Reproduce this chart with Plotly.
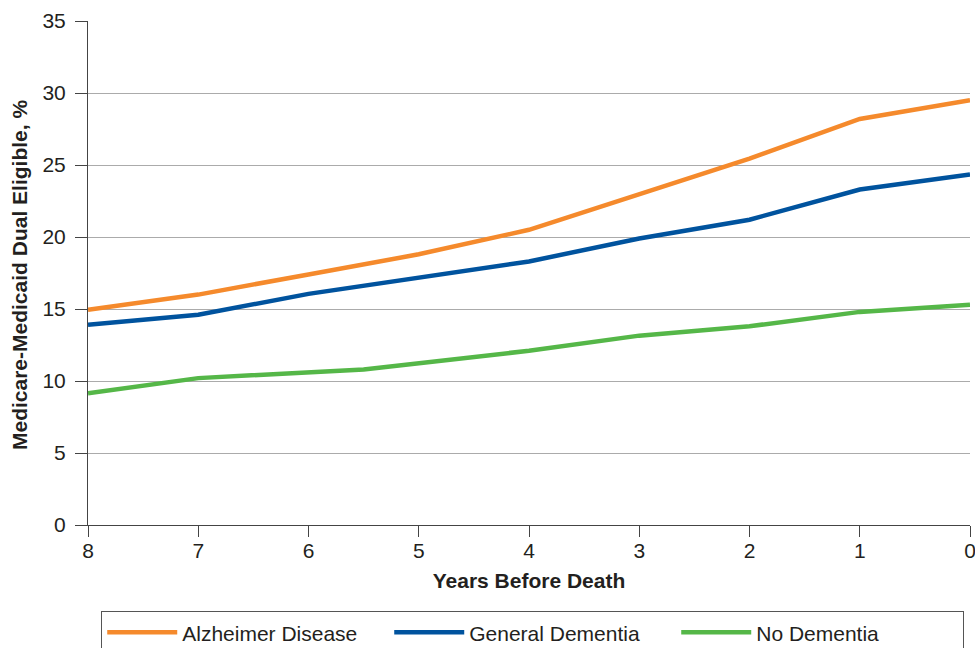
import plotly.graph_objects as go

years = [8, 7, 6, 5, 4, 3, 2, 1, 0]
alzheimer = [14.95, 16.0, 17.4, 18.8, 20.5, 22.95, 25.45, 28.2, 29.5]
general_dementia = [13.9, 14.6, 16.05, 17.15, 18.3, 19.9, 21.2, 23.3, 24.35]
green_years = [8, 7, 5.5, 4, 3, 2, 1, 0]
no_dementia = [9.15, 10.2, 10.8, 12.1, 13.15, 13.8, 14.8, 15.3]

y_ticks = [0, 5, 10, 15, 20, 25, 30, 35]
x_ticks = [8, 7, 6, 5, 4, 3, 2, 1, 0]

FONT = "Liberation Sans, Arial, sans-serif"
TXT = "#231F20"

fig = go.Figure()
fig.add_trace(go.Scatter(x=years, y=alzheimer, mode="lines", name="Alzheimer Disease",
                         line=dict(color="#F58A2C", width=4.5)))
fig.add_trace(go.Scatter(x=years, y=general_dementia, mode="lines", name="General Dementia",
                         line=dict(color="#00539E", width=4.5)))
fig.add_trace(go.Scatter(x=green_years, y=no_dementia, mode="lines", name="No Dementia",
                         line=dict(color="#55B748", width=4.5)))

fig.update_layout(
    width=975, height=648,
    margin=dict(l=88, r=5, t=21, b=123, autoexpand=False),
    paper_bgcolor="white", plot_bgcolor="white",
    font=dict(family=FONT, size=21, color=TXT),
    showlegend=True,
    legend=dict(orientation="h", x=0.015, xanchor="left", y=-0.171, yanchor="top",
                bordercolor="#555", borderwidth=1, font=dict(size=21, family=FONT, color=TXT),
                itemwidth=70, entrywidth=202, entrywidthmode="pixels", tracegroupgap=0),
    annotations=[dict(text="<b>Medicare-Medicaid Dual Eligible, %</b>", textangle=-90,
                      xref="paper", yref="paper", x=0, y=0.5, xanchor="center", yanchor="middle",
                      xshift=-69, yshift=-2, showarrow=False, font=dict(size=21, family=FONT, color=TXT))],
)
fig.update_xaxes(range=[8, 0], tickvals=x_ticks, ticktext=[str(v) for v in x_ticks],
                 showgrid=False, zeroline=False, showline=True, linecolor="#444", linewidth=1,
                 ticks="outside", ticklen=11, tickcolor="#444", tickwidth=1,
                 tickfont=dict(size=21), automargin=False, ticklabeloverflow="allow",
                 ticklabelstandoff=-4,
                 title=dict(text="<b>Years Before Death</b>", font=dict(size=21), standoff=12))
fig.update_yaxes(range=[0, 35], tickvals=y_ticks, showgrid=True, gridcolor="#ABABAB", gridwidth=1,
                 zeroline=False, showline=True, linecolor="#444", linewidth=1,
                 ticks="outside", ticklen=12, tickcolor="#444", tickwidth=1,
                 tickfont=dict(size=21), automargin=False, ticklabelstandoff=5)

fig.write_html("out.html", config={"displayModeBar": False},
               post_script="document.body.style.margin='0';document.body.style.overflow='hidden';")
